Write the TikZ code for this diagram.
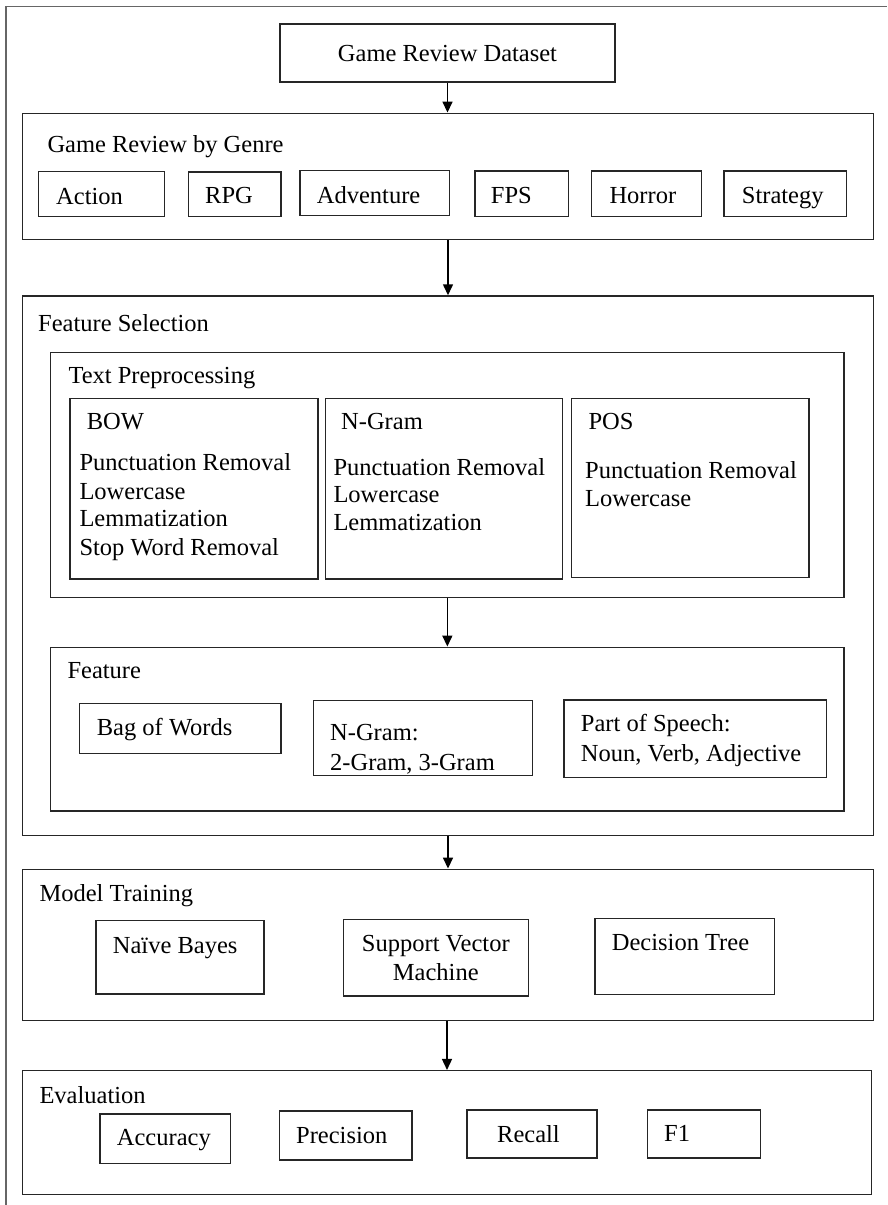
\documentclass[tikz,border=0pt]{standalone}
\usepackage{fontspec}
\setmainfont{Liberation Serif}
\usetikzlibrary{arrows.meta}
\newcommand\mkbox[5]{\node[box, minimum width={(#4)-(#2)}, minimum height={(#5)-(#3)}] (#1) at ({((#2)+(#4))/2},{((#3)+(#5))/2}) {};}
\newcommand\mktxt[4]{\node[txt] (#1) at (#2,#3) {#4};}
\newcommand\mkctxt[4]{\node[ctxt] (#1) at (#2,#3) {#4};}
\begin{document}
\begin{tikzpicture}[x=1pt,y=-1pt,
  box/.style={draw=black!85, line width=1.5pt, inner sep=0pt, rectangle},
  txt/.style={anchor=base west, inner sep=0pt, font=\fontsize{24.5}{29}\selectfont},
  ctxt/.style={anchor=base, inner sep=0pt, font=\fontsize{24.5}{29}\selectfont},
  arr/.style={line width=1.5pt, draw=black, -{Triangle[length=11pt,width=10pt]}},
  frame/.style={draw=black!60, line width=1.3pt}]
\useasboundingbox (0,0) rectangle (887,1205);
\draw[frame] (6,1205) -- (6,6.5) -- (887,6.5);
% boxes
\mkbox{ds}{280}{24}{615}{82}
\mkbox{genre}{22.7}{113.3}{873.3}{239.3}
\mkbox{action}{38.3}{171.7}{164.3}{216.7}
\mkbox{rpg}{188.3}{172}{281}{216.5}
\mkbox{adv}{300}{170.7}{449.3}{215.7}
\mkbox{fps}{475}{171}{568.3}{216.7}
\mkbox{horror}{591.7}{171}{701.7}{216.7}
\mkbox{strat}{724}{171}{846.7}{216.7}
\mkbox{fs}{22.7}{296}{873.3}{835.7}
\mkbox{tp}{50.7}{352.3}{844}{597.3}
\mkbox{bow}{70}{398.7}{318}{579}
\mkbox{ngram}{325.7}{398.7}{562.7}{579}
\mkbox{pos}{571.7}{398.7}{809}{577.3}
\mkbox{feat}{50.7}{647.3}{844}{811}
\mkbox{bag}{79.3}{703.3}{281}{753.3}
\mkbox{ngf}{313.3}{700.7}{532.3}{775.3}
\mkbox{posf}{564}{700}{826.7}{777.7}
\mkbox{mt}{22.7}{869.3}{873.3}{1020.7}
\mkbox{nb}{96}{920.7}{264}{994}
\mkbox{svm}{343.3}{919.3}{528.3}{996}
\mkbox{dt}{595}{918.3}{774.3}{994.3}
\mkbox{ev}{22.3}{1070.7}{871.7}{1194.3}
\mkbox{acc}{100}{1114}{230.7}{1163.7}
\mkbox{prec}{279.3}{1111}{412}{1160}
\mkbox{rec}{467}{1110}{597}{1158}
\mkbox{fone}{647.7}{1110}{760.7}{1158}
% texts
\mkctxt{tds}{447.5}{61}{Game Review Dataset}
\mktxt{tgenre}{47.3}{152}{Game Review by Genre}
\mktxt{taction}{56}{204}{Action}
\mktxt{trpg}{205}{203}{RPG}
\mktxt{tadv}{316.7}{203}{Adventure}
\mktxt{tfps}{490.7}{203}{FPS}
\mktxt{thorror}{609.3}{203}{Horror}
\mktxt{tstrat}{741.7}{203}{Strategy}
\mktxt{tfs}{38}{331}{Feature Selection}
\mktxt{ttp}{68.3}{383.3}{Text Preprocessing}
\mktxt{tbow}{86.7}{429.3}{BOW}
\mktxt{tbowa}{79.3}{470.7}{Punctuation Removal}
\mktxt{tbowb}{79.3}{499}{Lowercase}
\mktxt{tbowc}{79.3}{526.7}{Lemmatization}
\mktxt{tbowd}{79.3}{555.3}{Stop Word Removal}
\mktxt{tng}{341}{429.3}{N-Gram}
\mktxt{tnga}{333.3}{475}{Punctuation Removal}
\mktxt{tngb}{333.3}{502.7}{Lowercase}
\mktxt{tngc}{333.3}{530.7}{Lemmatization}
\mktxt{tpos}{588.3}{429.3}{POS}
\mktxt{tposa}{585}{478.3}{Punctuation Removal}
\mktxt{tposb}{585}{506.7}{Lowercase}
\mktxt{tfeat}{67.3}{678.3}{Feature}
\mktxt{tbag}{96.7}{735}{Bag of Words}
\mktxt{tngfa}{330}{740.7}{N-Gram:}
\mktxt{tngfb}{330}{770}{2-Gram, 3-Gram}
\mktxt{tposfa}{580.7}{731.7}{Part of Speech:}
\mktxt{tposfb}{580.7}{761.7}{Noun, Verb, Adjective}
\mktxt{tmt}{39.3}{901.7}{Model Training}
\mktxt{tnb}{112.7}{953.3}{Naïve Bayes}
\mkctxt{tsvma}{435.8}{951.7}{Support Vector}
\mkctxt{tsvmb}{435.8}{980.7}{Machine}
\mktxt{tdt}{611.7}{950}{Decision Tree}
\mktxt{tev}{39.3}{1103.3}{Evaluation}
\mktxt{tacc}{116.7}{1145.7}{Accuracy}
\mktxt{tprec}{296}{1143}{Precision}
\mktxt{trec}{497}{1142}{Recall}
\mktxt{tfone}{664}{1141.7}{F1}
% arrows
\draw[arr] (ds.south) -- (ds.south |- genre.north);
\draw[arr] (genre.south) -- (genre.south |- fs.north);
\draw[arr] (tp.south) -- (tp.south |- feat.north);
\draw[arr] (fs.south) -- (fs.south |- mt.north);
\draw[arr] (ev.north |- mt.south) -- (ev.north);
\end{tikzpicture}
\end{document}
